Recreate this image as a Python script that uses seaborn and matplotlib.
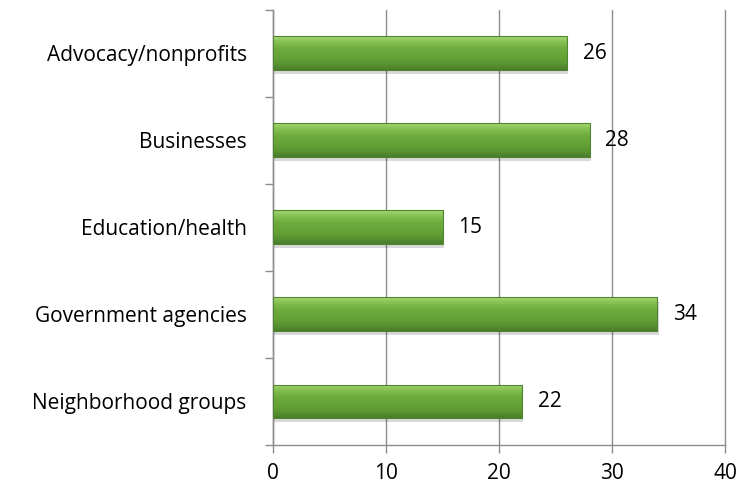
"""Horizontal bar chart: partner types."""

import matplotlib.pyplot as plt
import numpy as np
import pandas as pd
import seaborn as sns
from matplotlib.colors import LinearSegmentedColormap

categories = [
    "Advocacy/nonprofits",
    "Businesses",
    "Education/health",
    "Government agencies",
    "Neighborhood groups",
]
counts = [26, 28, 15, 34, 22]
x_ticks = [0, 10, 20, 30, 40]

df = pd.DataFrame({"category": categories, "count": counts})

sns.set_style("white")
plt.rcParams["font.family"] = ["Open Sans", "DejaVu Sans"]

fig = plt.figure(figsize=(7.4, 4.92), dpi=100)
ax = fig.add_axes([0.369, 0.0955, 0.611, 0.8845])

sns.barplot(data=df, x="count", y="category", orient="h", color="#6aa83f",
            width=0.39, ax=ax, zorder=3)

# gradient fill + bevel look on each bar
green = LinearSegmentedColormap.from_list(
    "g", ["#a6d673", "#80bc4e", "#6caa3e", "#66a438", "#5c9832", "#4a7c2c"])
grad = np.linspace(0, 1, 64).reshape(-1, 1)
for p in ax.patches:
    x0, y0 = p.get_x(), p.get_y()
    w, h = p.get_width(), p.get_height()
    # soft shadow
    ax.add_patch(plt.Rectangle((x0 + 0.1, y0 + 0.04), w, h, color="#000000",
                               alpha=0.15, zorder=2, lw=0))
    im = ax.imshow(grad, cmap=green, aspect="auto", zorder=4,
                   extent=(x0, x0 + w, y0 + h, y0), interpolation="bicubic")
    im.set_clip_path(p)
    p.set_edgecolor("#4f8530")
    p.set_linewidth(0.8)
    p.set_zorder(5)
    p.set_facecolor("none")

for p, v in zip(ax.patches[: len(counts)], counts):
    ax.text(p.get_x() + p.get_width() + 1.4, p.get_y() + p.get_height() / 2,
            f"{v}", va="center", ha="left", fontsize=15, color="black")

ax.set_xlim(0, 40)
ax.set_ylim(len(categories) - 0.5, -0.5)
ax.set_xticks(x_ticks)
ax.set_xticklabels([str(t) for t in x_ticks], fontsize=15, color="black")
ax.set_yticks(range(len(categories)))
ax.set_yticks(np.arange(-0.5, len(categories), 1.0), minor=True)
ax.tick_params(axis="y", which="major", labelsize=15, labelcolor="black",
               left=False, length=0, pad=19)
ax.tick_params(axis="y", which="minor", left=True, length=6,
               color="#8c8c8c", width=1)
ax.tick_params(axis="x", bottom=True, length=6, color="#8c8c8c", width=1,
               pad=7)
ax.xaxis.grid(True, color="#8c8c8c", lw=1)
for gl in ax.get_xgridlines():
    gl.set_clip_on(False)
ax.set_axisbelow(True)
ax.set_xlabel("")
ax.set_ylabel("")

for side in ["top", "right"]:
    ax.spines[side].set_visible(False)
for side in ["left", "bottom"]:
    ax.spines[side].set_color("#8c8c8c")
    ax.spines[side].set_linewidth(1)

fig.savefig("out.png", dpi=100)
